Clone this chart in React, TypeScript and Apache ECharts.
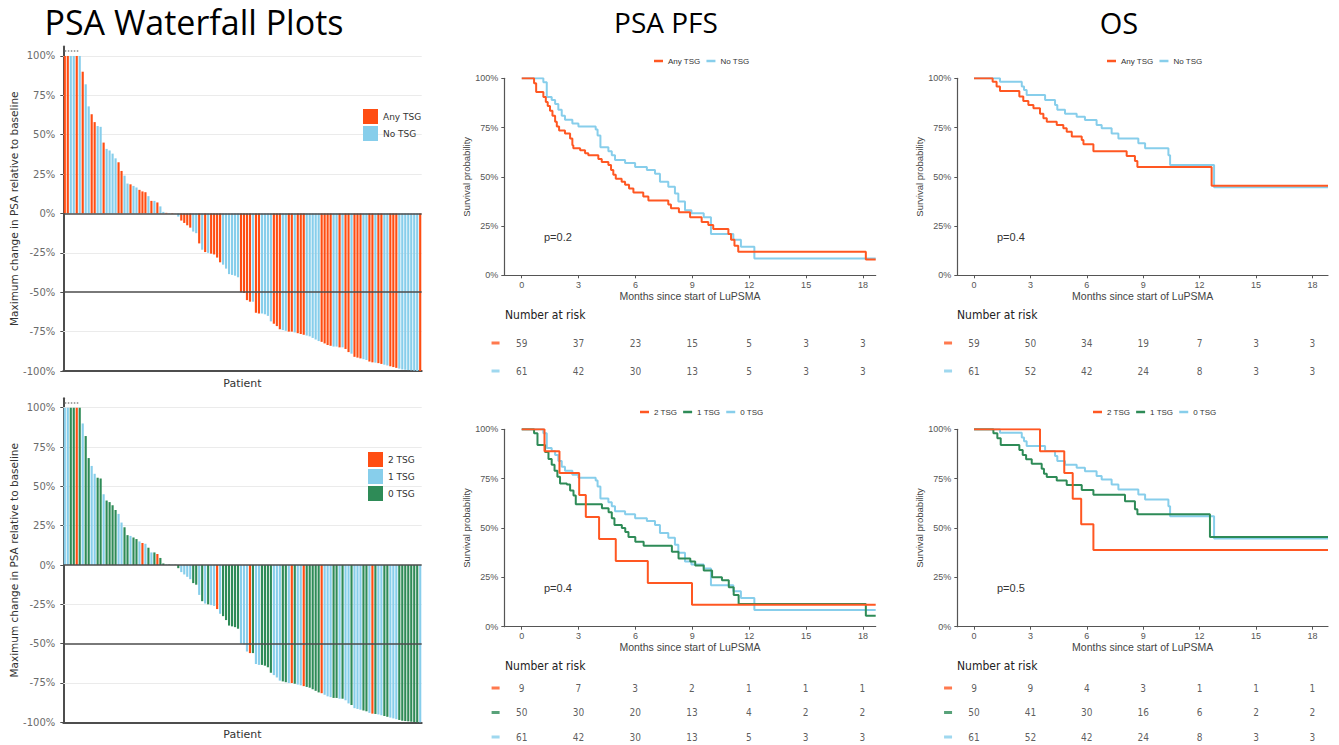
import React, { useEffect, useRef } from "react";
import * as echarts from "echarts";

// ---------------- Waterfall data (sorted patients) ----------------
const psaChange = [
  100, 100, 100, 100, 100, 100, 90, 82, 68, 63,
  58, 55.5, 55, 45, 41, 40, 38, 35, 32.5, 27,
  24, 19, 18.5, 17.5, 16.5, 15, 14, 13.5, 11, 8,
  8, 7, 4.5, 1, 0.4, 0.3, 0.3, 0.2, -2, -4.5,
  -6, -7.5, -9, -11.5, -12.5, -19, -23, -24.5, -25, -25.5,
  -26, -28, -31, -32.5, -35, -38.5, -39, -39.5, -40.5, -50,
  -50.5, -55, -56, -56, -63, -63.5, -63.5, -64, -65, -68.5,
  -70, -71.5, -73.5, -74, -74.5, -75, -75, -75.5, -76, -76.5,
  -77, -77.5, -78, -79, -80, -81, -81.5, -82.5, -83.5, -84,
  -84.5, -84.5, -85, -85, -86, -88, -89, -91, -91.5, -92,
  -92.5, -93, -94, -94.5, -94.7, -95, -95.5, -96, -96.5, -97,
  -97.5, -98, -98.5, -99, -99.2, -99.4, -99.6, -99.8, -100, -100,
];
// number of altered tumour-suppressor genes per patient (same order)
const tsgCount = [
  1, 1, 0, 0, 2, 0, 1, 0, 0, 1,
  1, 0, 0, 1, 0, 0, 0, 0, 1, 1,
  0, 0, 1, 0, 0, 1, 2, 1, 0, 1,
  0, 2, 0, 0, 1, 0, 1, 0, 0, 1,
  1, 1, 1, 0, 0, 1, 0, 1, 0, 1,
  1, 2, 1, 0, 0, 0, 0, 0, 0, 1,
  1, 1, 2, 0, 1, 1, 0, 0, 0, 0,
  1, 1, 1, 0, 0, 1, 2, 0, 1, 1,
  2, 0, 0, 0, 0, 0, 2, 1, 1, 1,
  0, 0, 1, 0, 1, 1, 0, 1, 1, 1,
  0, 0, 1, 2, 0, 1, 1, 0, 0, 1,
  1, 1, 0, 0, 0, 0, 0, 0, 0, 1,
];
const patients = psaChange.map((_, i) => "P" + (i + 1));
const wfTicks = [-100, -75, -50, -25, 0, 25, 50, 75, 100];
const wfGridVals = [100, 75, 50, 25, -25, -75];

// ---------------- Kaplan-Meier data ----------------
const monthTicks = [0, 3, 6, 9, 12, 15, 18];

const pfsAnyT = [0, 0.65, 0.76, 1.14, 1.27, 1.37, 1.49, 1.62, 1.76, 1.85, 1.97, 2.28, 2.55, 2.67, 2.72, 3.08, 3.34, 3.51, 4.04, 4.22, 4.57, 4.71, 4.83, 4.96, 5.27, 5.45, 5.66, 5.89, 6.41, 6.68, 7.73, 7.87, 8.29, 8.88, 9.49, 9.84, 10.1, 10.9, 11.04, 11.22, 11.42, 18.15, 18.67];
const pfsAnyS = [100, 97.5, 93, 90.5, 88, 86, 83.5, 81, 78, 75.5, 73.5, 72, 69.5, 66, 64.5, 63.5, 62, 61, 59, 57.5, 56, 53.5, 51, 49, 47.5, 46, 44, 42, 40, 38, 36, 34, 32, 29.5, 27, 25.5, 23.5, 21, 18, 15, 12, 8, 8];

const pfsNoT = [0, 1.14, 1.32, 1.58, 1.76, 1.93, 2.11, 2.28, 2.67, 2.99, 3.9, 4.0, 4.15, 4.57, 4.75, 4.92, 5.45, 5.98, 6.6, 7.03, 7.29, 7.73, 8.08, 8.26, 8.61, 8.95, 9.6, 9.98, 11.16, 11.56, 12.27, 18.67];
const pfsNoS = [100, 98, 90.5, 89, 87, 84, 81, 79, 77, 75.5, 74, 71, 65, 63, 61, 58.5, 57, 55, 53.5, 51.5, 47.5, 45, 41.5, 37.5, 33, 31.5, 29.5, 21, 18, 14.5, 8.5, 8.5];

const pfs2T = [0, 1.2, 1.99, 3.03, 3.38, 4.08, 4.96, 6.65, 8.98, 18.67];
const pfs2S = [100, 88.9, 77.8, 66.7, 55.6, 44.4, 33.3, 22.2, 11.1, 11.1];

const pfs1T = [0, 0.65, 0.83, 1.23, 1.41, 1.58, 1.73, 1.88, 2.02, 2.38, 2.55, 2.73, 2.85, 4.23, 4.58, 4.75, 4.89, 5.28, 5.46, 5.63, 5.99, 6.43, 7.92, 8.27, 8.89, 9.15, 9.6, 10.04, 10.56, 10.92, 11.18, 11.44, 18.15, 18.67];
const pfs1S = [100, 98, 92, 88.5, 85, 82, 79, 76, 72.5, 72, 69, 66.5, 62, 60, 58, 55, 51.5, 50, 48, 45.5, 43, 41, 38, 34.5, 33, 31, 28.5, 25, 23.5, 20, 16, 11.5, 5.5, 5.5];

const osAnyT = [0, 0.99, 1.2, 1.38, 2.41, 2.62, 2.89, 3.16, 3.51, 3.69, 3.87, 4.4, 4.75, 4.93, 5.2, 5.73, 5.82, 6.35, 8.12, 8.56, 8.69, 12.64, 18.83];
const osAnyS = [100, 98.3, 95.8, 93.5, 90.7, 88.5, 86.5, 84.8, 82, 79.7, 78, 76.3, 74.6, 72.9, 70.4, 68.7, 66.5, 63, 60.5, 58, 55, 45.5, 45.5];

const osNoT = [0, 1.38, 2.54, 2.66, 2.8, 3.78, 4.31, 4.43, 4.84, 5.46, 5.9, 6.52, 6.79, 7.32, 7.68, 8.74, 9.1, 10.34, 10.43, 12.77, 18.83];
const osNoS = [100, 98.3, 95.8, 94, 91.5, 89, 86.5, 84, 82, 80.5, 78.8, 76.3, 74.6, 72, 69.5, 67, 64.5, 61, 56, 44.7, 44.7];

const os2T = [0, 3.51, 4.8, 5.25, 5.7, 6.35, 18.83];
const os2S = [100, 88.9, 77.8, 64.8, 51.9, 38.9, 38.9];

const os1T = [0, 1.03, 1.24, 1.42, 2.41, 2.59, 2.77, 3.07, 3.6, 3.72, 3.87, 4.4, 4.93, 5.73, 6.35, 8.03, 8.56, 8.69, 12.55, 18.83];
const os1S = [100, 98, 95.5, 92, 89.5, 87, 84.8, 82.5, 80, 77.5, 75.8, 74, 71.8, 69.3, 66.8, 63.5, 59.5, 57, 45.5, 45.5];

// ---------------- Number at risk ----------------
const riskPfsAny = [59, 37, 23, 15, 5, 3, 3];
const riskPfsNo = [61, 42, 30, 13, 5, 3, 3];
const riskOsAny = [59, 50, 34, 19, 7, 3, 3];
const riskOsNo = [61, 52, 42, 24, 8, 3, 3];
const riskPfs2 = [9, 7, 3, 2, 1, 1, 1];
const riskPfs1 = [50, 30, 20, 13, 4, 2, 2];
const riskPfs0 = [61, 42, 30, 13, 5, 3, 3];
const riskOs2 = [9, 9, 4, 3, 1, 1, 1];
const riskOs1 = [50, 41, 30, 16, 6, 2, 2];
const riskOs0 = [61, 52, 42, 24, 8, 3, 3];

// p-values: top PFS, bottom PFS, top OS, bottom OS
const pValues = ["p=0.2", "p=0.4", "p=0.4", "p=0.5"];

// ---------------- styling ----------------
const ORANGE_BAR = "#FF4D12";
const ORANGE = "#FF5722";
const BLUE = "#87CEEB";
const GREEN = "#2E8B57";
const AXIS = "#4d4d4d";
const NARROW = "'Liberation Sans Narrow', 'DejaVu Sans Condensed', 'Liberation Sans', sans-serif";
const ARIAL = "'Liberation Sans', Arial, sans-serif";
const DEJAVU = "'DejaVu Sans', sans-serif";

const PFS_MIN = -0.92, PFS_MAX = 18.67, OS_MIN = -0.89, OS_MAX = 18.83;
const RISK_MIN = -1.9;

function buildOption() {
  const grids: any[] = [];
  const xAxes: any[] = [];
  const yAxes: any[] = [];
  const series: any[] = [];
  const legends: any[] = [];
  const graphics: any[] = [];

  const addGrid = (g: any) => {
    grids.push({ ...g, outerBoundsMode: "none", containLabel: false });
    return grids.length - 1;
  };

  // ----- waterfall grids -----
  const wf = (top: number, height: number, groups: { name: string; color: string; test: (t: number) => boolean }[], legendPos: { left: number; top: number }) => {
    const gi = addGrid({ left: 63.3, width: 358.4, top, height });
    xAxes.push({
      gridIndex: gi, type: "category", data: patients, boundaryGap: true,
      axisLine: { show: true, onZero: false, lineStyle: { color: AXIS, width: 2 } },
      axisTick: { show: false }, axisLabel: { show: false }, splitLine: { show: false },
      name: "Patient", nameLocation: "middle", nameGap: 7,
      nameTextStyle: { fontSize: 11, color: "#333", fontFamily: DEJAVU },
    });
    yAxes.push({
      gridIndex: gi, type: "value", min: -100, max: 106,
      axisLine: { show: true, lineStyle: { color: AXIS, width: 2 } },
      axisTick: { show: true, customValues: wfTicks, length: 3, lineStyle: { color: AXIS } },
      axisLabel: { customValues: wfTicks, formatter: (v: number) => v + "%", color: "#6b6b6b", fontSize: 10, fontFamily: DEJAVU, margin: 8 },
      splitLine: { show: false },
      name: "Maximum change in PSA relative to baseline", nameLocation: "middle", nameGap: 41,
      nameTextStyle: { fontSize: 10.5, color: "#333", fontFamily: DEJAVU },
    });
    groups.forEach((g, k) => {
      const s: any = {
        type: "bar", name: "wf:" + g.name, xAxisIndex: gi, yAxisIndex: gi,
        data: psaChange.map((v, i) => (g.test(tsgCount[i]) ? v : "-")),
        itemStyle: { color: g.color }, barCategoryGap: "28%", barGap: "-100%", silent: true,
      };
      if (k === 0) {
        s.markLine = {
          silent: true, symbol: ["none", "none"], label: { show: false },
          lineStyle: { color: AXIS, width: 1.5, type: "solid" },
          data: [
            { yAxis: 0 },
            { yAxis: -50 },
            [
              { coord: [patients[0], 103], lineStyle: { type: "dotted", color: "#888", width: 1.5 } },
              { coord: [patients[5], 103] },
            ],
          ],
        };
      }
      if (k === 1) {
        s.markLine = {
          silent: true, z: 1, symbol: ["none", "none"], label: { show: false },
          lineStyle: { color: "#ebebeb", width: 1, type: "solid" },
          data: wfGridVals.map((v) => ({ yAxis: v })),
        };
      }
      series.push(s);
    });
    legends.push({
      data: groups.map((g) => "wf:" + g.name),
      formatter: (n: string) => n.replace("wf:", ""),
      orient: "vertical", left: legendPos.left, top: legendPos.top,
      icon: "rect", itemWidth: 15, itemHeight: 15, itemGap: 2,
      textStyle: { fontSize: 9, color: "#333", fontFamily: DEJAVU },
      selectedMode: false,
    });
  };

  wf(46.5, 324.5, [
    { name: "Any TSG", color: ORANGE_BAR, test: (t) => t > 0 },
    { name: "No TSG", color: BLUE, test: (t) => t === 0 },
  ], { left: 358, top: 104 });
  wf(398.3, 324, [
    { name: "2 TSG", color: ORANGE_BAR, test: (t) => t === 2 },
    { name: "1 TSG", color: BLUE, test: (t) => t === 1 },
    { name: "0 TSG", color: GREEN, test: (t) => t === 0 },
  ], { left: 363, top: 447 });

  // ----- KM grids -----
  const kmPanel = (
    box: { left: number; width: number; top: number; height: number },
    xmin: number, xmax: number,
    curves: { name: string; t: number[]; s: number[]; color: string }[],
    legendNames: string[], legendLeft: number, legendTop: number,
  ) => {
    const gi = addGrid(box);
    xAxes.push({
      gridIndex: gi, type: "value", min: xmin, max: xmax,
      axisLine: { show: true, onZero: false, lineStyle: { color: "#555", width: 1.2 } },
      axisTick: { show: true, customValues: monthTicks, length: 3, lineStyle: { color: "#555" } },
      axisLabel: { customValues: monthTicks, color: "#555", fontSize: 9, fontFamily: ARIAL, margin: 5 },
      splitLine: { show: false },
      name: "Months since start of LuPSMA", nameLocation: "middle", nameGap: 15,
      nameTextStyle: { fontSize: 10.5, color: "#444", fontFamily: ARIAL },
    });
    yAxes.push({
      gridIndex: gi, type: "value", min: 0, max: 100, interval: 25,
      axisLine: { show: true, onZero: false, lineStyle: { color: "#555", width: 1.2 } },
      axisTick: { show: true, length: 3, lineStyle: { color: "#555" } },
      axisLabel: { formatter: "{value}%", color: "#555", fontSize: 9, fontFamily: ARIAL, margin: 6 },
      splitLine: { show: false },
      name: "Survival probability", nameLocation: "middle", nameGap: 30,
      nameTextStyle: { fontSize: 9.5, color: "#444", fontFamily: ARIAL },
    });
    curves.forEach((c) => {
      series.push({
        type: "line", name: c.name, xAxisIndex: gi, yAxisIndex: gi, step: "end",
        symbol: "none", silent: true,
        data: c.t.map((x, i) => [x, c.s[i]]),
        lineStyle: { color: c.color, width: 2 }, itemStyle: { color: c.color },
      });
    });
    legends.push({
      data: legendNames, left: legendLeft, top: legendTop,
      icon: "rect", itemWidth: 9, itemHeight: 2.5, itemGap: 6,
      textStyle: { fontSize: 8, color: "#333", fontFamily: ARIAL },
      selectedMode: false,
    });
  };

  kmPanel({ left: 504.3, width: 371.4, top: 78.3, height: 197 }, PFS_MIN, PFS_MAX, [
    { name: "No TSG", t: pfsNoT, s: pfsNoS, color: BLUE },
    { name: "Any TSG", t: pfsAnyT, s: pfsAnyS, color: ORANGE },
  ], ["Any TSG", "No TSG"], 649, 52);
  kmPanel({ left: 957.3, width: 370.7, top: 78.3, height: 197 }, OS_MIN, OS_MAX, [
    { name: "No TSG", t: osNoT, s: osNoS, color: BLUE },
    { name: "Any TSG", t: osAnyT, s: osAnyS, color: ORANGE },
  ], ["Any TSG", "No TSG"], 1102, 52);
  kmPanel({ left: 504.3, width: 371.4, top: 429.3, height: 197.4 }, PFS_MIN, PFS_MAX, [
    { name: "0 TSG", t: pfsNoT, s: pfsNoS, color: BLUE },
    { name: "1 TSG", t: pfs1T, s: pfs1S, color: GREEN },
    { name: "2 TSG", t: pfs2T, s: pfs2S, color: ORANGE },
  ], ["2 TSG", "1 TSG", "0 TSG"], 635, 403);
  kmPanel({ left: 957.3, width: 370.7, top: 429.3, height: 197.4 }, OS_MIN, OS_MAX, [
    { name: "0 TSG", t: osNoT, s: osNoS, color: BLUE },
    { name: "1 TSG", t: os1T, s: os1S, color: GREEN },
    { name: "2 TSG", t: os2T, s: os2S, color: ORANGE },
  ], ["2 TSG", "1 TSG", "0 TSG"], 1088, 403);

  // ----- risk tables -----
  const riskPanel = (
    zeroX: number, pxPerMonth: number, xmax: number, top: number, height: number,
    rows: { name: string; color: string; counts: number[] }[],
  ) => {
    const left = zeroX + RISK_MIN * pxPerMonth;
    const width = (xmax - RISK_MIN) * pxPerMonth;
    const gi = addGrid({ left, width, top, height });
    xAxes.push({ gridIndex: gi, type: "value", min: RISK_MIN, max: xmax, show: false });
    yAxes.push({ gridIndex: gi, type: "category", data: rows.map((r) => r.name), inverse: true, show: false });
    series.push({
      type: "scatter", xAxisIndex: gi, yAxisIndex: gi, symbolSize: 1, silent: true,
      itemStyle: { color: "rgba(0,0,0,0)" },
      data: rows.flatMap((r) => monthTicks.map((t, k) => [t, r.name, r.counts[k]])),
      label: { show: true, position: "inside", formatter: (p: any) => String(p.value[2]), color: "#333", fontSize: 10, fontFamily: NARROW },
    });
    series.push({
      type: "scatter", xAxisIndex: gi, yAxisIndex: gi, symbol: "rect", symbolSize: [8, 3], silent: true,
      data: rows.map((r) => ({ value: [-1.38, r.name], itemStyle: { color: r.color } })),
    });
  };
  riskPanel(521.7, 18.96, PFS_MAX, 329, 56, [
    { name: "Any TSG", color: ORANGE, counts: riskPfsAny },
    { name: "No TSG", color: BLUE, counts: riskPfsNo },
  ]);
  riskPanel(974, 18.8, OS_MAX, 329, 56, [
    { name: "Any TSG", color: ORANGE, counts: riskOsAny },
    { name: "No TSG", color: BLUE, counts: riskOsNo },
  ]);
  riskPanel(521.7, 18.92, PFS_MAX, 675.75, 73.5, [
    { name: "2 TSG", color: ORANGE, counts: riskPfs2 },
    { name: "1 TSG", color: GREEN, counts: riskPfs1 },
    { name: "0 TSG", color: BLUE, counts: riskPfs0 },
  ]);
  riskPanel(974, 18.8, OS_MAX, 675.75, 73.5, [
    { name: "2 TSG", color: ORANGE, counts: riskOs2 },
    { name: "1 TSG", color: GREEN, counts: riskOs1 },
    { name: "0 TSG", color: BLUE, counts: riskOs0 },
  ]);

  // ----- texts -----
  const title = (text: string, x: number, size: number) => ({
    type: "text", x, y: 22, silent: true,
    style: { text, fill: "#000", font: `${size}px 'Open Sans', sans-serif`, align: "center", verticalAlign: "middle" },
  });
  graphics.push(title("PSA Waterfall Plots", 194, 34), title("PSA PFS", 666, 28), title("OS", 1119, 29));
  const nar = (x: number, y: number) => ({
    type: "text", x, y, silent: true,
    style: { text: "Number at risk", fill: "#222", font: `12px ${NARROW}`, align: "left", verticalAlign: "middle" },
  });
  graphics.push(nar(505, 315), nar(957, 315), nar(505, 666), nar(957, 666));
  const pv = (text: string, x: number, y: number) => ({
    type: "text", x, y, silent: true,
    style: { text, fill: "#333", font: `11px ${ARIAL}`, align: "left", verticalAlign: "middle" },
  });
  graphics.push(pv(pValues[0], 544, 237), pv(pValues[1], 544, 588), pv(pValues[2], 997, 237), pv(pValues[3], 997, 588));

  return {
    animation: false,
    backgroundColor: "#fff",
    textStyle: { fontFamily: ARIAL },
    grid: grids, xAxis: xAxes, yAxis: yAxes, series, legend: legends,
    graphic: graphics,
    tooltip: { show: false },
  };
}

export default function App() {
  const ref = useRef<HTMLDivElement>(null);
  useEffect(() => {
    document.body.style.margin = "0";
    document.body.style.overflow = "hidden";
    if (!ref.current) return;
    const chart = echarts.init(ref.current, null, { renderer: "svg" });
    chart.setOption(buildOption() as any);
    return () => chart.dispose();
  }, []);
  return <div ref={ref} style={{ width: 1339, height: 745, background: "#fff" }} />;
}
